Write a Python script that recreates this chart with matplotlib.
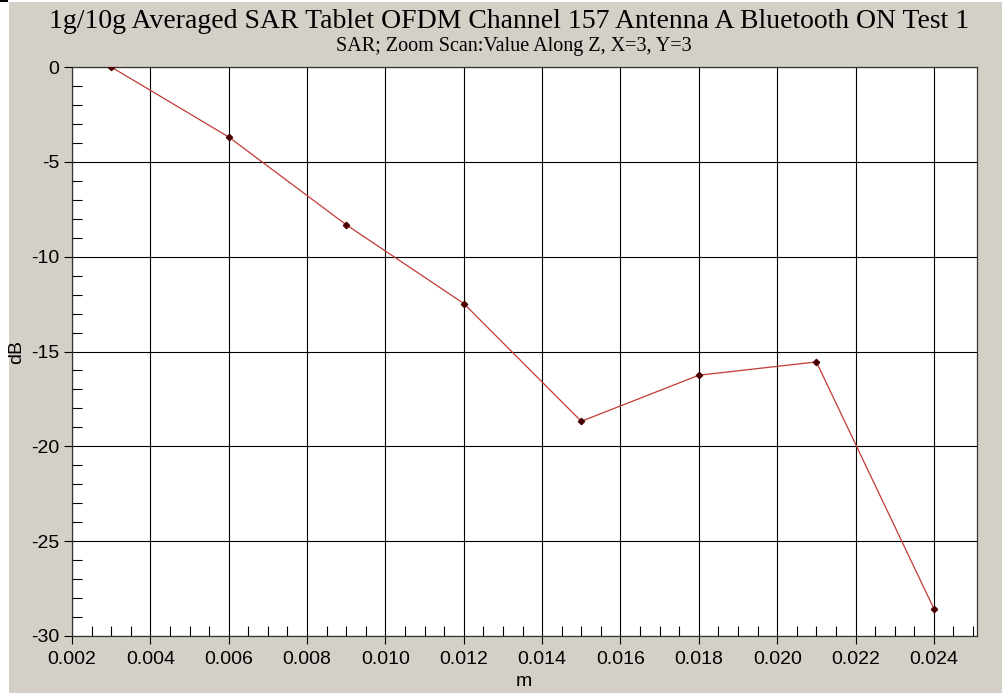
import matplotlib
matplotlib.use("Agg")
import matplotlib.pyplot as plt
from matplotlib.patches import Rectangle
from matplotlib.ticker import MultipleLocator, FixedLocator, FuncFormatter

# Data
distance_m = [0.003, 0.006, 0.009, 0.012, 0.015, 0.018, 0.021, 0.024]
sar_db = [0.0, -3.69, -8.32, -12.47, -18.68, -16.25, -15.55, -28.56]
x_ticks = [0.002, 0.004, 0.006, 0.008, 0.010, 0.012, 0.014, 0.016, 0.018, 0.020, 0.022, 0.024]
y_ticks = [0, -5, -10, -15, -20, -25, -30]
title = "1g/10g Averaged SAR Tablet OFDM Channel 157 Antenna A Bluetooth ON Test 1"
subtitle = "SAR; Zoom Scan:Value Along Z, X=3, Y=3"

W, H = 1002, 694
fig = plt.figure(figsize=(W / 100, H / 100), dpi=100, facecolor="white")
bg = "#D4D0C8"
fig.patches.append(Rectangle((9 / W, 1 / H), 1 - 9 / W, 1 - 3 / H,
                             transform=fig.transFigure, facecolor=bg,
                             edgecolor="none", zorder=-10))
fig.patches.append(Rectangle((0, 1 - 2 / H), 8 / W, 2 / H,
                             transform=fig.transFigure, facecolor="black",
                             edgecolor="none", zorder=-9))

L, R, T, B = 72, 977, 67, 636
ax = fig.add_axes([L / W, 1 - B / H, (R - L) / W, (B - T) / H])
ax.set_facecolor("white")

ax.plot(distance_m, sar_db, color="#C23A36", lw=0.9, zorder=3)
ax.plot(distance_m, sar_db, ls="none", marker="D", ms=3.2, color="#4A0000",
        zorder=4)

ax.set_xlim(0.002, 0.0251)
ax.set_ylim(-30, 0)
ax.xaxis.set_major_locator(FixedLocator(x_ticks))
ax.yaxis.set_major_locator(FixedLocator(y_ticks))
ax.xaxis.set_minor_locator(MultipleLocator(0.0005))
ax.yaxis.set_minor_locator(MultipleLocator(1))
ax.xaxis.set_major_formatter(FuncFormatter(lambda v, p: f"{v:.3f}"))
ax.yaxis.set_major_formatter(FuncFormatter(lambda v, p: f"{v:g}"))

ax.grid(True, which="major", color="black", lw=0.8)
ax.set_axisbelow(True)
for s in ax.spines.values():
    s.set_color("#333333")
    s.set_linewidth(0.9)

sans = "Liberation Sans"
ax.tick_params(which="major", direction="out", length=6, width=0.8,
               color="black", labelsize=14, pad=3)
ax.tick_params(axis="x", which="major", pad=5)
ax.tick_params(which="minor", direction="in", length=7, width=0.8,
               color="black")
for lab in ax.get_xticklabels() + ax.get_yticklabels():
    lab.set_fontfamily(sans)

fig.text(524 / W, 1 - 682 / H, "m", ha="center", va="center",
         fontsize=14, fontfamily=sans)
fig.text(17 / W, 1 - 352 / H, "dB", ha="center", va="center",
         rotation=90, fontsize=14, fontfamily=sans)

fig.text(509 / W, 1 - 21 / H, title, ha="center", va="center",
         fontsize=20, fontfamily="Liberation Serif")
fig.text(514 / W, 1 - 47 / H, subtitle, ha="center", va="center",
         fontsize=14.5, fontfamily="Liberation Serif")

fig.savefig("out.png", dpi=100, facecolor="white")
